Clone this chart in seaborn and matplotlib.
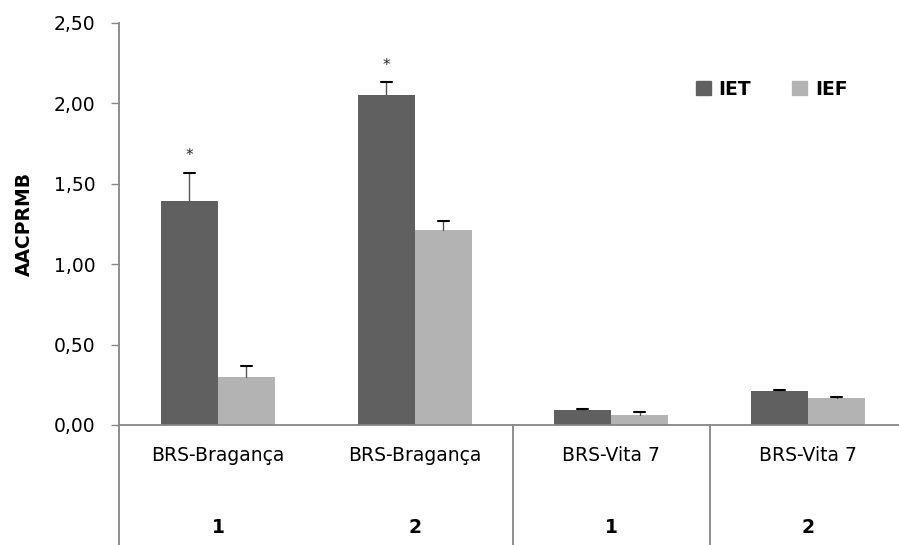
import pandas as pd
import seaborn as sns
import matplotlib.pyplot as plt
from matplotlib.ticker import FuncFormatter
from matplotlib.patches import Patch

# data
groups = ["g1", "g2", "g3", "g4"]
cultivars = ["BRS-Bragança", "BRS-Bragança", "BRS-Vita 7", "BRS-Vita 7"]
sub_labels = ["1", "2", "1", "2"]
iet = [1.39, 2.05, 0.093, 0.211]
ief = [0.298, 1.212, 0.062, 0.168]
iet_err = [0.176, 0.08, 0.004, 0.004]
ief_err = [0.067, 0.058, 0.017, 0.008]
stars = ["*", "*", "", ""]

sns.set_theme(style="white")
plt.rcParams["font.family"] = ["DejaVu Sans"]
plt.rcParams["text.color"] = "black"
plt.rcParams["axes.labelcolor"] = "black"
plt.rcParams["ytick.color"] = "black"

df = pd.DataFrame({
    "group": groups * 2,
    "serie": ["IET"] * 4 + ["IEF"] * 4,
    "value": iet + ief,
})

fig = plt.figure(figsize=(8.99, 5.45), dpi=100)
ax = fig.add_axes([0.1324, 0.2202, 0.8676, 0.7381])

sns.barplot(df, x="group", y="value", hue="serie", hue_order=["IET", "IEF"],
            palette=["#606060", "#b3b3b3"], width=0.58, saturation=1,
            errorbar=None, legend=False, linewidth=0, ax=ax)

# upper error bars + asterisks
errs = iet_err + ief_err
for patch, e in zip(ax.patches[:8], errs):
    xc = patch.get_x() + patch.get_width() / 2
    top = patch.get_height()
    ax.plot([xc, xc], [top, top + e], color="#555555", lw=1)
    ax.plot([xc - 0.028, xc + 0.028], [top + e, top + e], color="black", lw=1.5)
for i, s in enumerate(stars):
    if s:
        p = ax.patches[i]
        xc = p.get_x() + p.get_width() / 2
        ax.text(xc, p.get_height() + iet_err[i] + 0.06, s, ha="center",
                va="bottom", fontsize=11, color="#222222")

ax.set_ylim(0, 2.5)
ax.set_xlim(-0.5025, 3.462)
ax.set_yticks([0, 0.5, 1.0, 1.5, 2.0, 2.5])
ax.yaxis.set_major_formatter(FuncFormatter(lambda v, _: f"{v:.2f}".replace(".", ",")))
ax.tick_params(axis="y", left=True, length=6, width=1, color="#868686",
               labelsize=13.5, pad=11, labelcolor="black")
ax.set_xticks([])
ax.set_xlabel("")
ax.set_ylabel("AACPRMB", fontsize=13.5, fontweight="bold", labelpad=14)

for side in ["top", "right"]:
    ax.spines[side].set_visible(False)
for side in ["left", "bottom"]:
    ax.spines[side].set_color("#868686")
    ax.spines[side].set_linewidth(1.3)

# two-level category labels and dividers under the axis
tr = ax.get_xaxis_transform()
for i in range(4):
    ax.text(i, -0.075, cultivars[i], transform=tr, ha="center", va="center",
            fontsize=13.5)
    ax.text(i, -0.256, sub_labels[i], transform=tr, ha="center", va="center",
            fontsize=13.5, fontweight="bold")
for xb in [-0.5025, 1.5, 2.5]:
    ax.plot([xb, xb], [0, -0.31], transform=tr, color="#868686", lw=1.3,
            clip_on=False)

handles = [Patch(color="#606060", label="IET"), Patch(color="#b3b3b3", label="IEF")]
leg = ax.legend(handles=handles, loc="center left", bbox_to_anchor=(0.718, 0.835),
                ncol=2, frameon=False, fontsize=13.5, handlelength=0.8,
                handleheight=0.8, handletextpad=0.4, columnspacing=2.2)
for t in leg.get_texts():
    t.set_fontweight("bold")

fig.savefig("out.png", dpi=100)
